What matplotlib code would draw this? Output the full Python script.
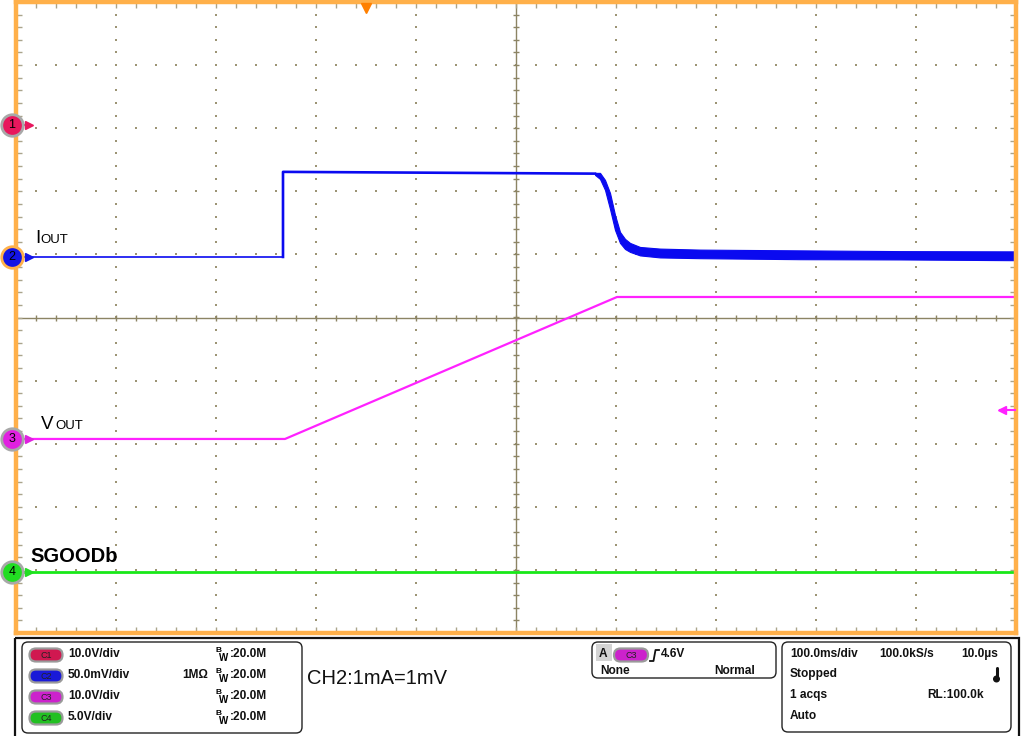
import numpy as np
import matplotlib
matplotlib.use("Agg")
import matplotlib.pyplot as plt
from matplotlib.patches import FancyBboxPatch, Rectangle, Circle

plt.rcParams['font.family'] = ['Liberation Sans', 'DejaVu Sans']

# ---------------- data ----------------
# time base: 100 ms/div, 10 divisions -> -500..500 ms
time_per_div = 100.0
# channel screen positions (divisions from centre)
ch_positions = [3.05, 0.96, -1.925, -4.04]
ch_colors = ['#e8175d', '#1414e6', '#e020e0', '#22dd22']
ch_names = ['1', '2', '3', '4']

# CH2 : IOUT (mA), 50 mV/div, 1 mA = 1 mV
iout_scale = 50.0
iout_t = [-500, -233, -233, 79]
iout_ma = [0.0, 0.0, 67.4, 66.0]
# noisy settling envelope of IOUT
iout_band_t = [79, 84, 89, 94, 99, 104, 109, 114, 124, 144, 184, 284, 384, 500]
iout_band_hi = [66.6, 66.6, 61.0, 50.7, 33.3, 19.8, 14.3, 11.1, 7.9, 6.6, 5.8, 5.2, 4.6, 4.4]
iout_band_lo = [65.0, 61.8, 53.1, 38.0, 21.4, 11.1, 6.3, 4.0, 1.2, -0.4, -1.0, -1.8, -2.0, -2.6]

# CH3 : VOUT (V), 10 V/div
vout_scale = 10.0
vout_t = [-500, -231, 101, 500]
vout_v = [0.0, 0.0, 22.5, 22.5]

# CH4 : SGOODb (V), 5 V/div
sgood_scale = 5.0
sgood_t = [-500, 500]
sgood_v = [0.0, 0.0]

trigger_time = -150
trigger_level = 4.6  # V on CH3

trace_labels = ['I', 'OUT', 'V', 'OUT', 'SGOODb']

# ---------------- figure ----------------
fig = plt.figure(figsize=(10.24, 7.36), dpi=100)
ax = fig.add_axes([16/1024, 1-633/736, 1000/1024, 631/736])
ax.set_xlim(-500, 500)
ax.set_ylim(-5, 5)

orange = '#ffb04a'
for s in ax.spines.values():
    s.set_color(orange)
    s.set_linewidth(3.2)
    s.set_zorder(6)

ax.set_xticks(np.arange(-500, 501, 100))
ax.set_xticks(np.arange(-500, 501, 20), minor=True)
ax.set_yticks(np.arange(-5, 5.01, 1))
ax.set_yticks(np.arange(-5, 5.01, 0.2), minor=True)
ax.tick_params(which='both', direction='in', length=4.5, width=1, color='#aaa48c',
               top=True, right=True, labelleft=False, labelbottom=False)

gcol = '#9c9474'
minor_x = np.arange(-480, 481, 20)
minor_y = np.arange(-4.8, 4.81, 0.2)
for xm in np.arange(-400, 401, 100):
    if xm == 0:
        continue
    ax.scatter(np.full_like(minor_y, xm), minor_y, s=1.6, marker='s', color=gcol, linewidths=0, zorder=1)
for ym in np.arange(-4, 4.1, 1):
    if abs(ym) < 1e-9:
        continue
    ax.scatter(minor_x, np.full_like(minor_x, ym, dtype=float), s=1.6, marker='s', color=gcol, linewidths=0, zorder=1)
ax.axvline(0, color='#8c8464', lw=1.0, zorder=1)
ax.axhline(0, color='#8c8464', lw=1.0, zorder=1)
ax.plot(np.zeros_like(minor_y), minor_y, ls='none', marker='_', ms=5, mew=1, color='#8c8464', zorder=1)
ax.plot(minor_x, np.zeros_like(minor_x, dtype=float), ls='none', marker='|', ms=4, mew=1, color='#8c8464', zorder=1)

# ---------------- traces ----------------
def to_div(vals, scale, pos):
    return np.asarray(vals, dtype=float) / scale + pos

blue = '#0a0af0'
ax.plot(iout_t[:2], to_div(iout_ma[:2], iout_scale, ch_positions[1]), color=blue, lw=1.2, zorder=3)
ax.plot(iout_t[1:], to_div(iout_ma[1:], iout_scale, ch_positions[1]), color=blue, lw=1.9, zorder=3)
ax.fill_between(iout_band_t, to_div(iout_band_lo, iout_scale, ch_positions[1]),
                to_div(iout_band_hi, iout_scale, ch_positions[1]), color=blue, lw=0.8, zorder=3)

ax.plot(vout_t, to_div(vout_v, vout_scale, ch_positions[2]), color='#ff22ff', lw=1.6, zorder=3)
ax.plot(sgood_t, to_div(sgood_v, sgood_scale, ch_positions[3]), color='#18e818', lw=2.0, zorder=3)

# channel markers
for name, pos, col in zip(ch_names, ch_positions, ch_colors):
    edge = orange if name == '2' else '#a8a8a8'
    ax.plot([-494, -487], [pos, pos], color=col, lw=1.5, clip_on=False, zorder=7)
    ax.plot([-487], [pos], marker='>', ms=5.5, color=col, clip_on=False, zorder=7)
    ax.plot([-504], [pos], marker='o', ms=15.5, mfc=col, mec=edge, mew=2.0, clip_on=False, zorder=8)
    ax.text(-504, pos, name, ha='center', va='center', fontsize=9, color='black', zorder=9, clip_on=False)

# trigger markers
ax.plot([trigger_time], [4.9], marker='v', ms=7.5, color='#ff8000', mec='#ff8000', clip_on=False, zorder=7)
trig_y = trigger_level / vout_scale + ch_positions[2]
ax.plot([484, 500], [trig_y, trig_y], color='#ff22ff', lw=1.5, zorder=7)
ax.plot([486], [trig_y], marker='<', ms=6, color='#ff22ff', zorder=7)

# ---------------- overlay (labels + info panel) ----------------
ov = fig.add_axes([0, 0, 1, 1], zorder=10)
ov.set_xlim(0, 1024)
ov.set_ylim(736, 0)
ov.axis('off')
ov.patch.set_alpha(0)

# trace labels
ov.text(35, 243, trace_labels[0], fontsize=13.5, va='baseline', ha='left')
ov.text(40.5, 243, trace_labels[1], fontsize=9.5, va='baseline', ha='left')
ov.text(41, 429, trace_labels[2], fontsize=13.5, va='baseline', ha='left')
ov.text(55, 429, trace_labels[3], fontsize=9.5, va='baseline', ha='left')
ov.text(30, 562, trace_labels[4], fontsize=14.5, fontweight='bold', va='baseline', ha='left')

# outer panel border
ov.add_patch(Rectangle((15, 638), 1004, 110, fill=False, ec='#111111', lw=1.6, clip_on=False))

def rbox(x0, y0, x1, y1):
    ov.add_patch(FancyBboxPatch((x0, y0), x1 - x0, y1 - y0, boxstyle='round,pad=0,rounding_size=6',
                                fill=False, ec='#222222', lw=1.0))

def pill(xc, yc, col, label, w=33, h=13):
    ov.add_patch(FancyBboxPatch((xc - w/2, yc - h/2), w, h, boxstyle='round,pad=0,rounding_size=6.5',
                                fc=col, ec='#9a9a9a', lw=1.6))
    ov.text(xc, yc + 0.5, label, fontsize=6.5, ha='center', va='center', color='#222222')

tk = dict(fontsize=8.6, fontweight='bold', va='center', ha='left', color='#111111')

rbox(22, 642, 302, 733)
rows_y = [654, 675, 696, 717]
scales_txt = ['10.0V/div', '50.0mV/div', '10.0V/div', '5.0V/div']
pill_cols = ['#d01850', '#1a1ad8', '#cc22cc', '#22c022']
for i, y in enumerate(rows_y):
    pill(46, y + 1, pill_cols[i], 'C%d' % (i + 1))
    ov.text(68, y, scales_txt[i], **tk)
    ov.text(215, y - 3.5, 'B', fontsize=6, fontweight='bold', va='center', ha='left')
    ov.text(219, y + 4, 'W', fontsize=7, fontweight='bold', va='center', ha='left')
    ov.text(229.5, y, ':20.0M', **tk)
ov.text(182, rows_y[1], '1MΩ', **tk)

ov.text(307, 678, 'CH2:1mA=1mV', fontsize=14.5, va='center', ha='left', color='#111111')

# trigger box
rbox(592, 642, 776, 678)
ov.add_patch(Rectangle((596, 644), 16, 17, fc='#d4d4d4', ec='none'))
ov.text(599, 654, 'A', **tk)
pill(631, 655, '#cc22cc', 'C3', w=34, h=13)
ov.plot([650, 653.5, 655.5, 659], [661, 661, 650, 650], color='#111111', lw=1.3)
ov.text(661, 654, '4.6V', **tk)
ov.text(600, 671, 'None', **tk)
ov.text(714, 671, 'Normal', **tk)

# timebase box
rbox(782, 642, 1011, 732)
ov.text(790, 654, '100.0ms/div', **tk)
ov.text(879, 654, '100.0kS/s', **tk)
ov.text(961, 654, '10.0µs', **tk)
ov.text(790, 674, 'Stopped', **tk)
ov.plot([996.5, 996.5], [668, 678], color='#111111', lw=2.2, solid_capstyle='round')
ov.add_patch(Circle((996.5, 679), 2.8, color='#111111'))
ov.text(790, 695, '1 acqs', **tk)
ov.text(927, 695, 'RL:100.0k', **tk)
ov.text(790, 716, 'Auto', **tk)

fig.savefig('out.png', dpi=100)
